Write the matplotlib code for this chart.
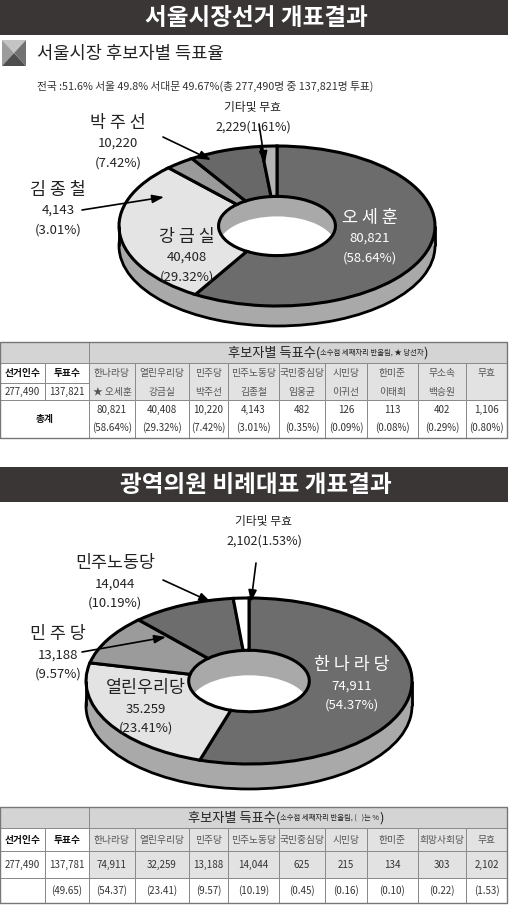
import matplotlib
matplotlib.use('Agg')
import matplotlib.pyplot as plt
from matplotlib.patches import Rectangle, Polygon

plt.rcParams['font.family'] = ['Noto Sans CJK KR', 'DejaVu Sans']

W, H = 510, 905

# ---------------- data ----------------
title1 = '서울시장선거 개표결과'
subtitle1 = '서울시장 후보자별 득표율'
note1 = '전국 :51.6% 서울 49.8% 서대문 49.67%(총 277,490명 중 137,821명 투표)'
title2 = '광역의원 비례대표 개표결과'

# donut 1 (clockwise from 12 o'clock)
pie1_names = ['오 세 훈', '강 금 실', '김 종 철', '박 주 선', '기타및 무효']
pie1_votes = [80821, 40408, 4143, 10220, 2229]
pie1_pcts = [58.64, 29.32, 3.01, 7.42, 1.61]
pie1_colors = ['#6c6c6c', '#e4e4e4', '#9a9a9a', '#686868', '#b4b4b4']

# donut 2
pie2_names = ['한 나 라 당', '열린우리당', '민 주 당', '민주노동당', '기타및 무효']
pie2_pcts = [54.37, 23.41, 9.57, 10.19, 1.53]
pie2_vote_text = ['74,911', '35.259', '13,188', '14,044', '2,102']
pie2_colors = ['#6d6d6d', '#e3e3e3', '#9b9b9b', '#6d6d6d', '#ffffff']

# table 1
t1_electors, t1_voters = '277,490', '137,821'
t1_parties = ['한나라당', '열린우리당', '민주당', '민주노동당', '국민중심당',
              '시민당', '한미준', '무소속', '무효']
t1_cands = ['★ 오세훈', '강금실', '박주선', '김종철', '임웅균', '이귀선',
            '이태희', '백승원', '']
t1_votes = [80821, 40408, 10220, 4143, 482, 126, 113, 402, 1106]
t1_pcts = [58.64, 29.32, 7.42, 3.01, 0.35, 0.09, 0.08, 0.29, 0.80]

# table 2
t2_electors, t2_voters, t2_turnout = '277,490', '137,781', 49.65
t2_parties = ['한나라당', '열린우리당', '민주당', '민주노동당', '국민중심당',
              '시민당', '한미준', '희망사회당', '무효']
t2_votes = [74911, 32259, 13188, 14044, 625, 215, 134, 303, 2102]
t2_pcts = [54.37, 23.41, 9.57, 10.19, 0.45, 0.16, 0.10, 0.22, 1.53]

# ---------------- layout ----------------
col_x = [0, 45, 89, 135, 189, 228, 279, 325, 367, 418, 466, 507]
t1_rows = [342, 363, 383, 400, 438]
t2_rows = [807, 828, 851, 878, 903]
DARK = '#3a3636'
TXT = '#333333'
LINE = '#8a8a8a'
HEAD_GRAY = '#d4d4d4'
CELL_GRAY = '#e2e2e2'

fig = plt.figure(figsize=(W / 100, H / 100), dpi=100)
fig.patch.set_facecolor('white')

bg = fig.add_axes([0, 0, 1, 1], zorder=0)
bg.set_xlim(0, W)
bg.set_ylim(H, 0)
bg.axis('off')

top = fig.add_axes([0, 0, 1, 1], zorder=5)
top.set_xlim(0, W)
top.set_ylim(H, 0)
top.axis('off')
top.patch.set_visible(False)

# title bars
for y0, text in [(0, title1), (467, title2)]:
    bg.add_patch(Rectangle((0, y0), 508, 35, color=DARK, lw=0))
    bg.text(256, y0 + 18, text, color='white', fontsize=17, fontweight='bold',
            ha='center', va='center')

# subtitle icon
c = (14, 53)
for pts, col in [([(2, 40), (26, 40), c], '#c4c4c4'),
                 ([(2, 40), (2, 66), c], '#9c9c9c'),
                 ([(2, 66), (26, 66), c], '#4e4e4e'),
                 ([(26, 40), (26, 66), c], '#727272')]:
    bg.add_patch(Polygon(pts, closed=True, color=col, lw=0))
bg.text(37, 54, subtitle1, fontsize=12.7, color='#222222', ha='left', va='center')
bg.text(37, 86, note1, fontsize=7.75, color=TXT, ha='left', va='center')


def donut(box, center, a, b, depth, r_in, values, colors):
    x0, y0, x1, y1 = box
    ax = fig.add_axes([x0 / W, 1 - y1 / H, (x1 - x0) / W, (y1 - y0) / H], zorder=2)
    cx, cy = center
    d = depth / b
    side = '#a9a9a9'
    ax.pie([1], radius=1, center=(0, -d), colors=[side],
           wedgeprops=dict(edgecolor='black', linewidth=2))
    ax.fill_between([-1, 1], -d, 0, color=side, lw=0)
    ax.vlines([-1, 1], -d, 0, color='black', lw=2)
    ax.pie([1], radius=r_in, colors=[side], wedgeprops=dict(linewidth=0))
    ax.pie([1], radius=r_in, center=(0, -d), colors=['white'],
           wedgeprops=dict(linewidth=0))
    ax.pie(values, radius=1, startangle=90, counterclock=False, colors=colors,
           wedgeprops=dict(width=1 - r_in, edgecolor='black', linewidth=2.2))
    ax.set_aspect('auto')
    ax.set_xlim((x0 - cx) / a, (x1 - cx) / a)
    ax.set_ylim((cy - y1) / b, (cy - y0) / b)
    ax.axis('off')
    ax.patch.set_visible(False)
    return ax


donut((100, 130, 460, 345), (277, 226), 158, 80, 20, 0.37, pie1_votes, pie1_colors)
donut((60, 585, 440, 805), (249, 681), 163, 83, 25, 0.37, pie2_pcts, pie2_colors)


def label(x, y, lines, color='#222222', sizes=(12.5, 9.5, 9.5), gap=(0, 20, 40)):
    for ln, s, g in zip(lines, sizes, gap):
        top.text(x, y + g, ln, color=color, fontsize=s, ha='center', va='center')


def arrow(tail, head):
    top.annotate('', xy=head, xytext=tail,
                 arrowprops=dict(arrowstyle='-|>,head_length=0.7,head_width=0.25',
                                 color='black', lw=1.2, shrinkA=0, shrinkB=0))


# donut 1 labels
pos1 = [(370, 218), (187, 237), (58, 190), (118, 123)]
col1 = ['white', '#222222', '#222222', '#222222']
for i in range(4):
    label(pos1[i][0], pos1[i][1],
          [pie1_names[i], f'{pie1_votes[i]:,}', f'({pie1_pcts[i]:.2f}%)'], color=col1[i])
top.text(253, 108, pie1_names[4], fontsize=8.5, color='#222222', ha='center', va='center')
top.text(253, 127, f'{pie1_votes[4]:,}({pie1_pcts[4]:.2f}%)', fontsize=9,
         color='#222222', ha='center', va='center')
arrow((163, 137), (211, 160))
arrow((82, 210), (164, 197))
arrow((259, 124), (265, 163))

# donut 2 labels
pos2 = [(352, 665), (146, 688), (58, 634), (115, 563)]
col2 = ['white', '#222222', '#222222', '#222222']
for i in range(4):
    label(pos2[i][0], pos2[i][1],
          [pie2_names[i], pie2_vote_text[i], f'({pie2_pcts[i]:.2f}%)'], color=col2[i],
          gap=(0, 21, 40))
top.text(264, 521, pie2_names[4], fontsize=8.5, color='#222222', ha='center', va='center')
top.text(264, 541, f'{pie2_vote_text[4]}({pie2_pcts[4]:.2f}%)', fontsize=9,
         color='#222222', ha='center', va='center')
arrow((256, 563), (251, 602))
arrow((163, 580), (211, 602))
arrow((82, 652), (166, 637))


# ---------------- tables ----------------
def cell(x0, x1, y0, y1, fc):
    bg.add_patch(Rectangle((x0, y0), x1 - x0, y1 - y0, facecolor=fc,
                           edgecolor=LINE, lw=0.7))


def ctext(x, y, s, bold=False, color=TXT, size=7):
    bg.text(x, y, s, fontsize=size, color=color, ha='center', va='center',
            fontweight='bold' if bold else 'normal')


def header(rows, small, cx):
    cell(col_x[0], col_x[2], rows[0], rows[1], HEAD_GRAY)
    cell(col_x[2], col_x[-1], rows[0], rows[1], HEAD_GRAY)
    ym = (rows[0] + rows[1]) / 2
    t = bg.text(cx, ym + 0.5, small, fontsize=5.3, color='#222222', ha='center', va='center')
    bg.annotate('후보자별 득표수(', xy=(0, 0.5), xycoords=t, fontsize=9.5,
                color='#222222', ha='right', va='center')
    bg.annotate(')', xy=(1, 0.5), xycoords=t, fontsize=9.5,
                color='#222222', ha='left', va='center')


def mid(i):
    return (col_x[i] + col_x[i + 1]) / 2


# table 1
r = t1_rows
header(r, '소수점 세째자리 반올림, ★ 당선자', 372)
for j, (h, v) in enumerate([('선거인수', t1_electors), ('투표수', t1_voters)]):
    cell(col_x[j], col_x[j + 1], r[1], r[2], 'white')
    cell(col_x[j], col_x[j + 1], r[2], r[3], 'white')
    ctext(mid(j), (r[1] + r[2]) / 2, h, bold=True, color='#111111')
    ctext(mid(j), (r[2] + r[3]) / 2, v)
cell(col_x[0], col_x[2], r[3], r[4], 'white')
ctext(col_x[1], (r[3] + r[4]) / 2, '총계', bold=True, color='#111111')
for i in range(len(t1_parties)):
    k = i + 2
    cell(col_x[k], col_x[k + 1], r[1], r[3], CELL_GRAY)
    cell(col_x[k], col_x[k + 1], r[3], r[4], 'white')
    ctext(mid(k), (r[1] + r[2]) / 2, t1_parties[i], color='#555555')
    ctext(mid(k), (r[2] + r[3]) / 2, t1_cands[i], color='#555555')
    ctext(mid(k), r[3] + 10, f'{t1_votes[i]:,}')
    ctext(mid(k), r[3] + 28, f'({t1_pcts[i]:.2f}%)')
bg.add_patch(Rectangle((0, r[0]), col_x[-1], r[4] - r[0], fill=False,
                       edgecolor='#777777', lw=1))

# table 2
r = t2_rows
header(r, '소수점 세째자리 반올림, (   )는 %', 330)
left2 = [('선거인수', t2_electors, ''), ('투표수', t2_voters, f'({t2_turnout:.2f})')]
for j, (h, v, p) in enumerate(left2):
    cell(col_x[j], col_x[j + 1], r[1], r[2], 'white')
    cell(col_x[j], col_x[j + 1], r[2], r[3], 'white')
    cell(col_x[j], col_x[j + 1], r[3], r[4], 'white')
    ctext(mid(j), (r[1] + r[2]) / 2, h, bold=True, color='#111111')
    ctext(mid(j), (r[2] + r[3]) / 2, v)
    ctext(mid(j), (r[3] + r[4]) / 2, p)
for i in range(len(t2_parties)):
    k = i + 2
    cell(col_x[k], col_x[k + 1], r[1], r[2], CELL_GRAY)
    cell(col_x[k], col_x[k + 1], r[2], r[3], CELL_GRAY)
    cell(col_x[k], col_x[k + 1], r[3], r[4], 'white')
    ctext(mid(k), (r[1] + r[2]) / 2, t2_parties[i], color='#555555')
    ctext(mid(k), (r[2] + r[3]) / 2, f'{t2_votes[i]:,}')
    ctext(mid(k), (r[3] + r[4]) / 2, f'({t2_pcts[i]:.2f})')
bg.add_patch(Rectangle((0, r[0]), col_x[-1], r[4] - r[0], fill=False,
                       edgecolor='#777777', lw=1))

fig.savefig('out.png', dpi=100)
